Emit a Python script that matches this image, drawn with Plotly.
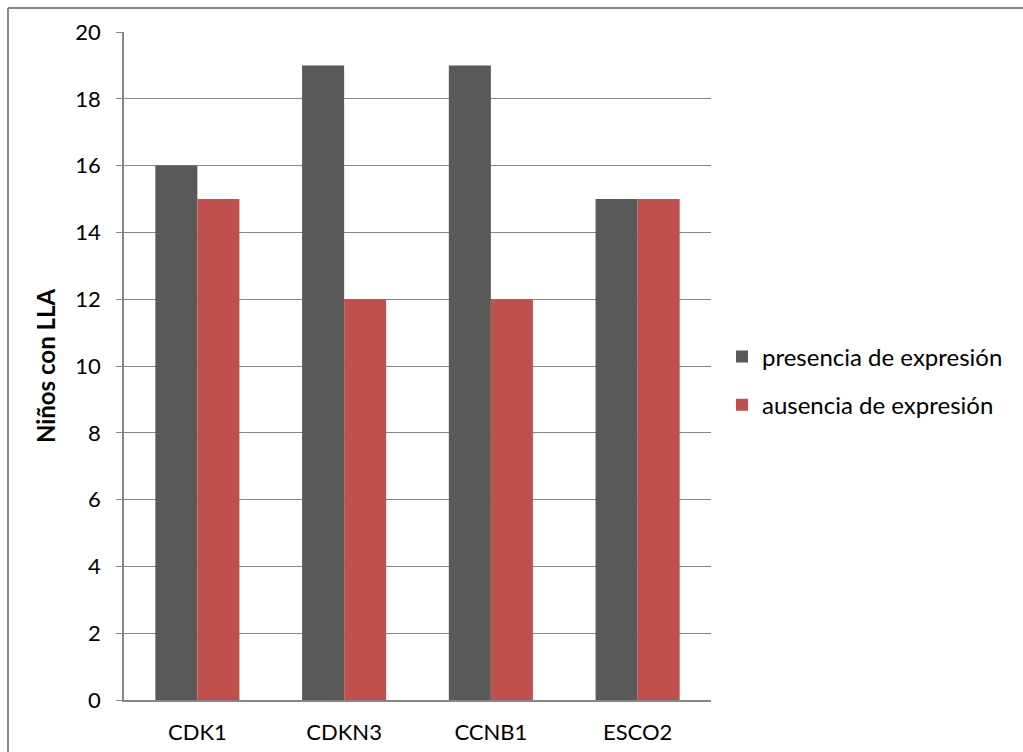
import plotly.graph_objects as go

categories = ["CDK1", "CDKN3", "CCNB1", "ESCO2"]
presencia = [16, 19, 19, 15]
ausencia = [15, 12, 12, 15]
series_names = ["presencia de expresión", "ausencia de expresión"]
y_ticks = [0, 2, 4, 6, 8, 10, 12, 14, 16, 18, 20]

W, H = 1023, 752
L, R, T, B = 124, 711, 32, 700
FONT = "Lato"

fig = go.Figure()
fig.add_trace(go.Bar(x=categories, y=presencia, name=series_names[0],
                     marker=dict(color="#595959", line=dict(width=0)),
                     legendgroup="a"))
fig.add_trace(go.Bar(x=categories, y=ausencia, name=series_names[1],
                     marker=dict(color="#C0504D", line=dict(width=0)),
                     legendgroup="b"))

pw = R - L
ph = B - T

def px_x(x):
    return (x - L) / pw

def px_y(y):
    return (B - y) / ph

fig.update_layout(
    width=W, height=H,
    margin=dict(l=L, r=W - R, t=T, b=H - B, autoexpand=False),
    paper_bgcolor="white", plot_bgcolor="white",
    barmode="group", bargap=0.427, bargroupgap=0,
    font=dict(family=FONT, size=22, color="black"),
    showlegend=True,
    legend=dict(x=px_x(722), xanchor="left", y=px_y(381), yanchor="middle",
                font=dict(family=FONT, size=24, color="black"),
                tracegroupgap=14, traceorder="grouped",
                bgcolor="rgba(0,0,0,0)", itemwidth=30),
    xaxis=dict(showgrid=False, showline=True, linecolor="#868686", linewidth=1.5,
               ticks="", tickfont=dict(size=22), ticklabelstandoff=12),
    yaxis=dict(range=[0, 20], tickvals=y_ticks, showgrid=True, gridcolor="#868686",
               gridwidth=1, showline=True, linecolor="#868686", linewidth=1.5,
               ticks="outside", ticklen=6, tickcolor="#868686", tickwidth=1,
               tickfont=dict(size=22), ticklabelstandoff=11, zeroline=False,
               title=dict(text="<b>Niños con LLA</b>", font=dict(size=24),
                          standoff=13)),
    shapes=[
        dict(type="line", xref="paper", yref="paper",
             x0=px_x(8), x1=px_x(1023), y0=px_y(8), y1=px_y(8),
             line=dict(color="#868686", width=2)),
        dict(type="line", xref="paper", yref="paper",
             x0=px_x(8), x1=px_x(8), y0=px_y(8), y1=px_y(760),
             line=dict(color="#868686", width=2)),
    ],
)

fig.write_html("out.html")
